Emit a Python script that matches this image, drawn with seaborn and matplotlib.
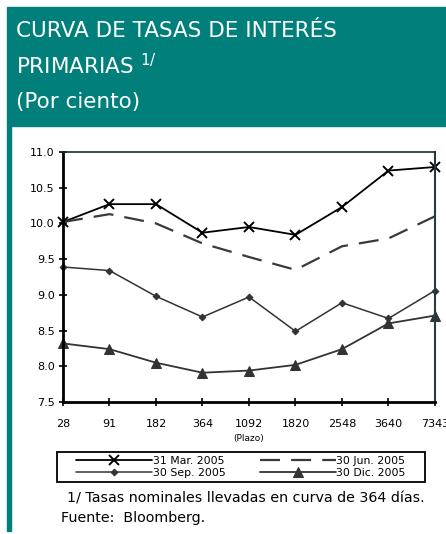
import pandas as pd
import numpy as np
import seaborn as sns
from matplotlib import pyplot as plt
from matplotlib.patches import Rectangle

# datos
plazos = ['28', '91', '182', '364', '1092', '1820', '2548', '3640', '7343']
mar_2005 = [10.02, 10.27, 10.27, 9.87, 9.95, 9.84, 10.23, 10.74, 10.79]
jun_2005 = [10.02, 10.13, 10.00, 9.72, 9.53, 9.35, 9.68, 9.79, 10.10]
sep_2005 = [9.39, 9.34, 8.98, 8.69, 8.97, 8.49, 8.89, 8.67, 9.06]
dic_2005 = [8.32, 8.24, 8.05, 7.91, 7.94, 8.02, 8.24, 8.60, 8.71]
series = ['31 Mar. 2005', '30 Jun. 2005', '30 Sep. 2005', '30 Dic. 2005']
y_ticks = [7.5, 8.0, 8.5, 9.0, 9.5, 10.0, 10.5, 11.0]

sns.set_style('white')
plt.rcParams['font.family'] = ['DejaVu Sans']
plt.rcParams['text.color'] = 'black'
plt.rcParams['xtick.color'] = 'black'
plt.rcParams['ytick.color'] = 'black'
plt.rcParams['axes.labelcolor'] = 'black'

W, H = 446, 534
fig = plt.figure(figsize=(W / 100, H / 100), dpi=100)

def fx(px):
    return px / W

def fy(py):
    return 1 - py / H

teal = '#007f7b'
# encabezado y borde izquierdo
fig.patches.append(Rectangle((fx(7), fy(126)), fx(446 - 7), (126 - 7) / H,
                             transform=fig.transFigure, color=teal, zorder=0))
fig.patches.append(Rectangle((fx(7), fy(531)), fx(4), (531 - 126) / H,
                             transform=fig.transFigure, color=teal, zorder=0))
fig.text(fx(16), fy(37), 'CURVA DE TASAS DE INTERÉS', color='white', fontsize=15.5)
fig.text(fx(16), fy(74), 'PRIMARIAS $^{1/}$', color='white', fontsize=15.5)
fig.text(fx(16), fy(108), '(Por ciento)', color='white', fontsize=15.5)

ax = fig.add_axes([fx(63), fy(402), fx(435 - 63), (402 - 152) / H])

df = pd.DataFrame({
    'pos': list(range(len(plazos))) * 4,
    'valor': mar_2005 + jun_2005 + sep_2005 + dic_2005,
    'serie': np.repeat(series, len(plazos)),
})

estilos = {
    '31 Mar. 2005': dict(color='black', marker='x', markersize=7, mew=1.4,
                         mec='black', lw=1.3),
    '30 Jun. 2005': dict(color='#3a3a3a', dashes=(9, 5), lw=1.6),
    '30 Sep. 2005': dict(color='#333333', marker='D', markersize=3.4,
                         mec='#333333', lw=1.1),
    '30 Dic. 2005': dict(color='#333333', marker='^', markersize=7.5,
                         mec='#333333', lw=1.3),
}
for s in series:
    sns.lineplot(data=df[df['serie'] == s], x='pos', y='valor', ax=ax,
                 label=s, legend=False, clip_on=False, **estilos[s])

ax.set_xlim(0, len(plazos) - 1)
ax.set_ylim(7.5, 11.0)
ax.set_xticks(range(len(plazos)))
ax.set_xticklabels(plazos)
ax.set_yticks(y_ticks)
ax.set_yticklabels([f'{v:.1f}' for v in y_ticks])
ax.tick_params(axis='both', labelsize=8, length=6, width=1.2, color='black',
               labelcolor='black', direction='inout', bottom=True, left=True, pad=3)
ax.tick_params(axis='x', pad=9)
ax.spines['left'].set_linewidth(2)
ax.spines['bottom'].set_linewidth(2)
ax.spines['top'].set_linewidth(1.2)
ax.spines['right'].set_linewidth(1.5)
ax.spines['left'].set_color('black')
ax.spines['bottom'].set_color('black')
ax.spines['top'].set_color('#1a2e2e')
ax.spines['right'].set_color('#1f3f3f')
ax.set_xlabel('(Plazo)', fontsize=6.5, labelpad=4, color='black')
ax.set_ylabel('')

# caja de la leyenda
fig.patches.append(Rectangle((fx(57), fy(482)), fx(425 - 57), 30 / H,
                             transform=fig.transFigure, fill=False,
                             edgecolor='black', lw=1.3, zorder=1))
handles, labels = ax.get_legend_handles_labels()
orden = [0, 2, 1, 3]
leg = fig.legend([handles[i] for i in orden], [labels[i] for i in orden],
                 ncol=2, loc='center', bbox_to_anchor=(fx(241), fy(467)),
                 fontsize=7.8, frameon=False, handlelength=7,
                 handletextpad=0.05, columnspacing=3.2, borderpad=0,
                 labelspacing=0.15, borderaxespad=0, labelcolor='black')

fig.text(fx(67), fy(503), '1/ Tasas nominales llevadas en curva de 364 días.',
         fontsize=10.3, color='black')
fig.text(fx(61), fy(522), 'Fuente:  Bloomberg.', fontsize=10.3, color='black')

fig.savefig('out.png', dpi=100)
